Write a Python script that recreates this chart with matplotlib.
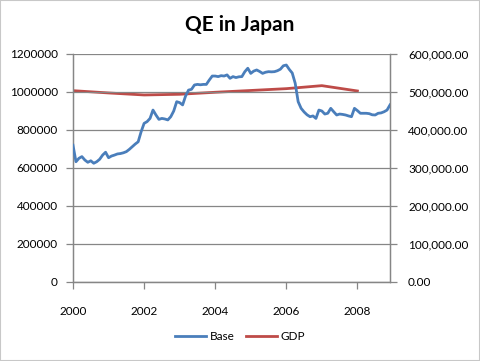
import numpy as np
import matplotlib
matplotlib.use("Agg")
import matplotlib.pyplot as plt
from matplotlib.ticker import FuncFormatter
from matplotlib.patches import Rectangle

plt.rcParams['font.family'] = ['Lato', 'DejaVu Sans']

# Monetary base, monthly Jan 2000 - Dec 2008
base_2000 = [720000, 633000, 651000, 660000, 642000, 630000, 638000, 625000, 633000, 646000, 668000, 683000]
base_2001 = [654000, 663000, 668000, 674000, 676000, 680000, 686000, 698000, 712000, 726000, 738000, 791000]
base_2002 = [835000, 844000, 861000, 905000, 879000, 856000, 861000, 858000, 853000, 870000, 900000, 949000]
base_2003 = [944000, 932000, 979000, 1010000, 1014000, 1037000, 1040000, 1038000, 1040000, 1040000, 1063000, 1084000]
base_2004 = [1084000, 1081000, 1086000, 1084000, 1090000, 1072000, 1081000, 1076000, 1080000, 1081000, 1107000, 1125000]
base_2005 = [1098000, 1110000, 1116000, 1108000, 1098000, 1104000, 1107000, 1106000, 1107000, 1112000, 1120000, 1138000]
base_2006 = [1142000, 1119000, 1100000, 1046000, 949000, 914000, 895000, 880000, 870000, 874000, 861000, 905000]
base_2007 = [900000, 884000, 888000, 914000, 896000, 879000, 884000, 882000, 879000, 874000, 870000, 914000]
base_2008 = [902000, 888000, 888000, 888000, 886000, 880000, 879000, 888000, 890000, 896000, 905000, 932000]
base_values = (base_2000 + base_2001 + base_2002 + base_2003 + base_2004 +
               base_2005 + base_2006 + base_2007 + base_2008)
base_dates = [2000 + i / 12 for i in range(len(base_values))]

# GDP, annual (secondary axis)
gdp_years = [2000, 2001, 2002, 2003, 2004, 2005, 2006, 2007, 2008]
gdp_values = [503500, 497500, 492200, 494000, 499300, 504000, 508800, 516700, 502700]

x_ticks = [2000, 2002, 2004, 2006, 2008]
left_ticks = [0, 200000, 400000, 600000, 800000, 1000000, 1200000]
right_ticks = [0, 100000, 200000, 300000, 400000, 500000, 600000]

W, H = 480, 361
fig = plt.figure(figsize=(W / 100, H / 100), dpi=100)
fig.patch.set_facecolor('white')
fig.patches.append(Rectangle((0, 0), 1, 1, transform=fig.transFigure,
                             fill=False, edgecolor='#C8C8C8', linewidth=1.5))

ax = fig.add_axes([73 / W, 1 - 282 / H, (390 - 73) / W, (282 - 54) / H])
ax2 = ax.twinx()

gray = '#868686'
blue = '#4A7EBB'
red = '#BE4B48'

ax.set_ylim(0, 1200000)
ax2.set_ylim(0, 600000)
ax.set_xlim(2000, 2000 + 107 / 12)

ax.set_yticks(left_ticks)
ax2.set_yticks(right_ticks)
ax.set_xticks(x_ticks)
ax.yaxis.set_major_formatter(FuncFormatter(lambda v, p: f"{int(v)}"))
ax2.yaxis.set_major_formatter(FuncFormatter(lambda v, p: f"{v:,.2f}"))
ax.xaxis.set_major_formatter(FuncFormatter(lambda v, p: f"{int(v)}"))

ax.grid(axis='y', color=gray, linewidth=0.9)
ax.set_axisbelow(True)

for a in (ax, ax2):
    a.spines['top'].set_visible(False)
    for s in ('left', 'right', 'bottom'):
        a.spines[s].set_color(gray)
        a.spines[s].set_linewidth(0.9)
    a.tick_params(colors='black', labelsize=8.5, length=5, width=0.9, color=gray, direction='out')

ax.tick_params(axis='x', pad=12)
ax.tick_params(axis='y', pad=6)
ax2.tick_params(axis='y', pad=8)

l1, = ax.plot(base_dates, base_values, color=blue, linewidth=2.0, label='Base', zorder=3)
l2, = ax2.plot(gdp_years, gdp_values, color=red, linewidth=2.0, label='GDP', zorder=2)

ax.set_zorder(ax2.get_zorder() + 1)
ax.patch.set_visible(False)

fig.text(0.5, 1 - 25 / H, 'QE in Japan', ha='center', va='center',
         fontsize=15, fontweight='bold')

fig.legend(handles=[l1, l2], loc='center', bbox_to_anchor=(240 / W, 1 - 337 / H),
           ncol=2, frameon=False, fontsize=8.5, handlelength=2.6, columnspacing=1.0,
           handletextpad=0.3)

fig.savefig('out.png', dpi=100)
